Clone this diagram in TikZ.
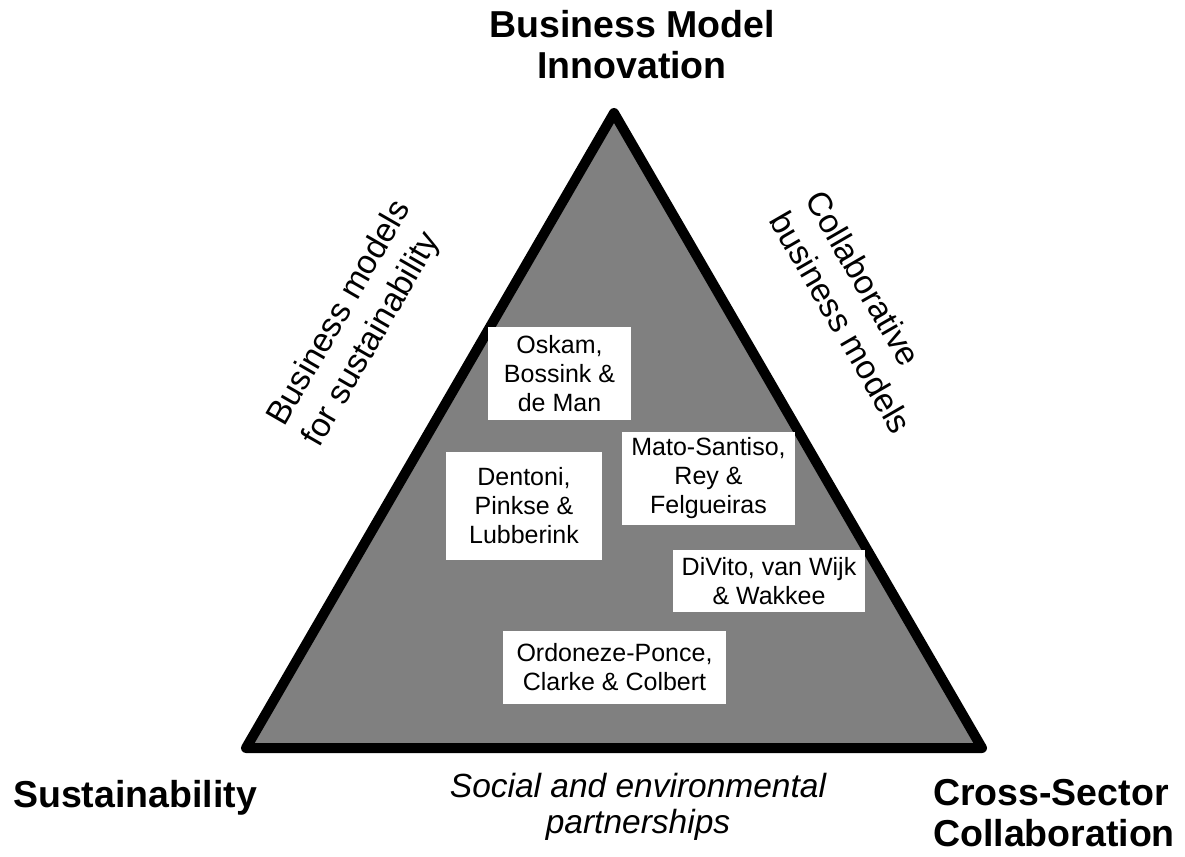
\documentclass[tikz,border=0pt]{standalone}
\usepackage{fontspec}
\setmainfont{Liberation Sans}
\definecolor{trigray}{RGB}{128,128,128}
\begin{document}
\begin{tikzpicture}[x=1pt,y=-1pt,
  corner/.style={font=\fontsize{37.5}{41}\selectfont\bfseries, inner sep=0pt},
  sidetext/.style={font=\fontsize{33.5}{41}\selectfont, inner sep=0pt, align=left},
  refbox/.style={fill=white, inner sep=0pt, align=center, font=\fontsize{25}{29}\selectfont}
]
\useasboundingbox (0,0) rectangle (1185,856);
% triangle
\coordinate (apex) at (614,113);
\coordinate (bl) at (246,748);
\coordinate (br) at (982,748);
\draw[line width=10pt, line join=round, fill=trigray] (apex) -- (bl) -- (br) -- cycle;
% corner labels
\node[corner, align=center] (bmi) at (632,45) {Business Model\\Innovation};
\node[corner, anchor=base west] (sus) at (13,807) {Sustainability};
\node[corner, align=left, anchor=north west] (csc) at (933,779) {Cross-Sector\\Collaboration};
% side labels
\node[sidetext, rotate=60] (left) at (358,324) {Business models\\for sustainability};
\node[sidetext, rotate=-60] (right) at (859,312) {Collaborative\\business models};
\node[sidetext, align=center, font=\fontsize{33.5}{36}\selectfont\itshape, anchor=north] (bottom) at (638,773) {Social and environmental\\partnerships};
% reference boxes
\node[refbox, minimum width=143pt, minimum height=93pt] (osk) at (559.5,373.5) {Oskam,\\Bossink \&\\de Man};
\node[refbox, minimum width=156pt, minimum height=108pt] (den) at (524,506) {Dentoni,\\Pinkse \&\\Lubberink};
\node[refbox, minimum width=173pt, minimum height=93pt] (mato) at (708.5,478.5) {Mato-Santiso,\\Rey \&\\Felgueiras};
\node[refbox, minimum width=192pt, minimum height=62pt] (div) at (769,581) {DiVito, van Wijk\\\& Wakkee};
\node[refbox, minimum width=223pt, minimum height=73pt] (ord) at (614.5,667.5) {Ordoneze-Ponce,\\Clarke \& Colbert};
\end{tikzpicture}
\end{document}
